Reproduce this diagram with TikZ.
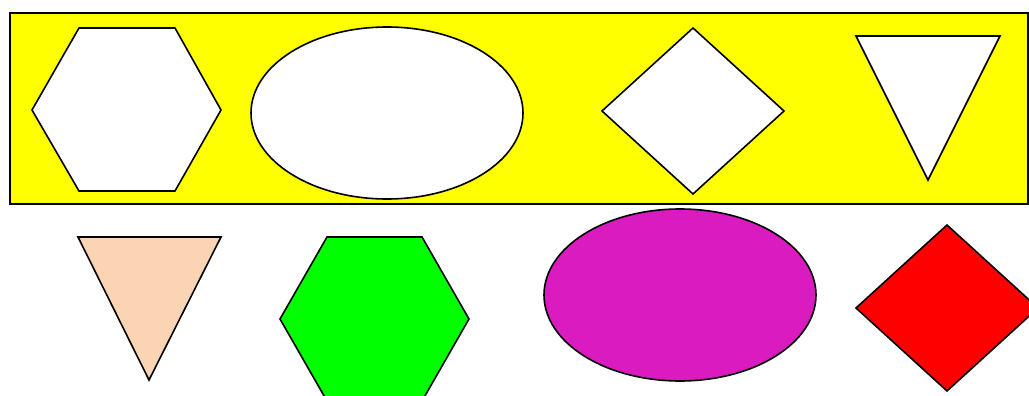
\documentclass[tikz,border=0pt]{standalone}
\usetikzlibrary{shapes.geometric}
\definecolor{peach}{RGB}{251,212,180}
\definecolor{mag}{RGB}{217,27,192}
\definecolor{yel}{RGB}{255,255,0}
\definecolor{grn}{RGB}{0,255,0}
\definecolor{rd}{RGB}{255,0,0}
\begin{document}
\begin{tikzpicture}[x=1pt,y=-1pt,
  shp/.style={draw=black,line width=1.6pt,line join=miter},
  hole/.style={shp,fill=white}]
\useasboundingbox (0,0) rectangle (1029,396);
\begin{scope}
\clip (0,0) rectangle (1029,396);
\draw[shp,fill=yel] (10,13) rectangle (1028,204);
% top row
\draw[hole] (79,28) -- (175,28) -- (221,110) -- (175,191) -- (79,191) -- (32,110) -- cycle;
\draw[hole] (387,113) ellipse [x radius=136, y radius=86];
\draw[hole] (693,28) -- (784,111) -- (693,194) -- (602,111) -- cycle;
\draw[hole] (856,36) -- (1000,36) -- (928,180) -- cycle;
% bottom row
\draw[shp,fill=peach] (78,237) -- (221,237) -- (149,380) -- cycle;
\draw[shp,fill=grn] (327,237) -- (422,237) -- (469,319) -- (422,401) -- (327,401) -- (280,319) -- cycle;
\draw[shp,fill=mag] (680,295) ellipse [x radius=136, y radius=86];
\draw[shp,fill=rd] (947,225) -- (1038,308) -- (947,391) -- (856,308) -- cycle;
\end{scope}
\end{tikzpicture}
\end{document}
